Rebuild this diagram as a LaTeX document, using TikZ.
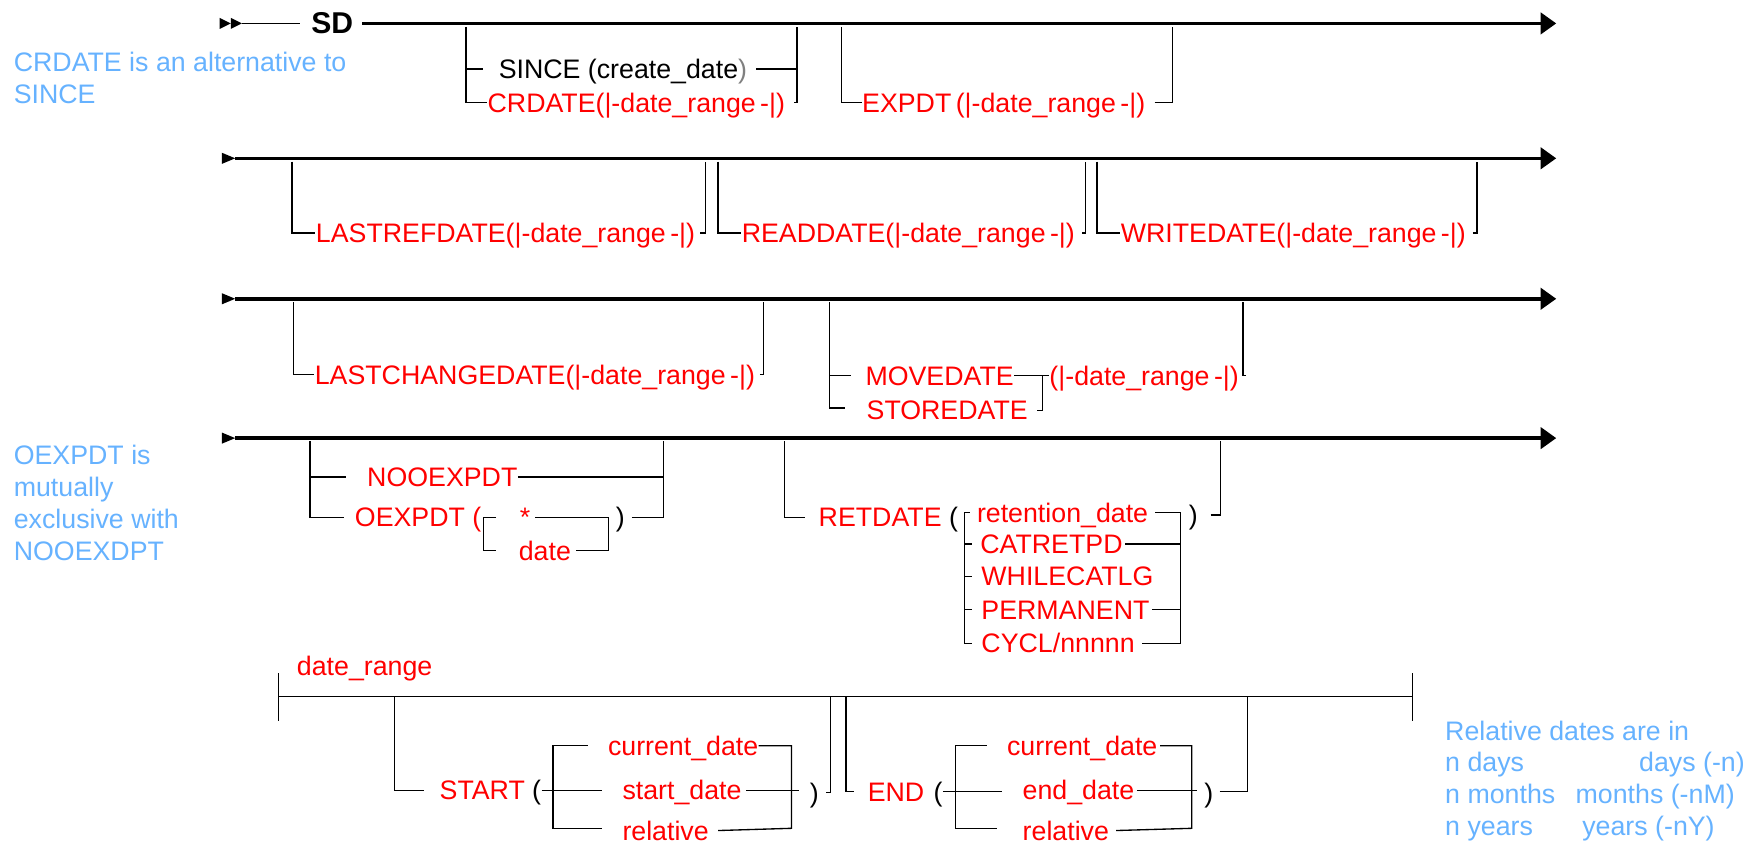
\documentclass[tikz,border=0pt]{standalone}
\usepackage{fontspec}
\setmainfont{Liberation Sans}
\usetikzlibrary{arrows.meta}
\definecolor{notebl}{RGB}{102,178,255}
\definecolor{kwred}{RGB}{255,0,0}
\tikzset{
  rail/.style={line width=1.6pt},
  fork/.style={line width=0.6pt},
  txt/.style={inner sep=0pt, text height=8.6pt, text depth=0pt, anchor=west},
  kw/.style={txt, text=kwred},
  note/.style={text=notebl, align=left, anchor=north west, inner sep=0pt},
  endtip/.style={-{Triangle[length=7pt,width=9.5pt]}},
}
\begin{document}
\begin{tikzpicture}[x=0.5pt,y=-0.5pt,font=\fontsize{12}{14.3}\selectfont]
\useasboundingbox (0,0) rectangle (1568,756);
% notes
\node[note] (n1) at (12,46) {CRDATE is an alternative to\\SINCE};
\node[note] (n2) at (12,399) {OEXPDT is\\mutually\\exclusive with\\NOOEXDPT};
\node[note] (n3) at (1296,646) {Relative dates are in\\\makebox[87pt][l]{n days}days (-n)\\\makebox[58.5pt][l]{n months}months (-nM)\\\makebox[61.5pt][l]{n years}years (-nY)};

% row 1
\fill (197,16) -- (207,21) -- (197,26) -- cycle;
\fill (207,16) -- (217,21) -- (207,26) -- cycle;
\node[inner sep=0pt, font=\fontsize{13.5}{15}\selectfont\bfseries] (sd) at (298,21) {SD};
\draw[fork] (217,21) -- ([xshift=-5pt]sd.west);
\draw[rail,endtip] ([xshift=4pt]sd.east) -- (1396,21);
\node[txt] (since) at (447,62) {SINCE (create\_date\textcolor{gray}{)}};
\node[kw] (crdate) at (437,92) {CRDATE(|-date\_range\,-|)};
\draw[fork] (418,24) |- (crdate.west);
\draw[fork] (418,62) -- (433,62);
\draw[fork] ([xshift=4pt]since.east) -| (715,24);
\draw[fork] ([xshift=4pt]crdate.east) -| (715,60);
\node[kw] (expdt) at (773,92) {EXPDT\,(|-date\_range\,-|)};
\draw[fork] (755,24) |- (expdt.west);
\draw[fork] ([xshift=4pt]expdt.east) -| (1052,24);

% row 2
\fill (199,137) -- (211,142) -- (199,147) -- cycle;
\draw[rail,endtip] (211,142) -- (1396,142);
\node[kw] (lastref) at (283,209) {LASTREFDATE(|-date\_range\,-|)};
\draw[fork] (262,145) |- (lastref.west);
\draw[fork] ([xshift=2pt]lastref.east) -| (633,145);
\node[kw] (readd) at (665,209) {READDATE(|-date\_range\,-|)};
\draw[fork] (644,145) |- (readd.west);
\draw[fork] ([xshift=3pt]readd.east) -| (974,145);
\node[kw] (writed) at (1005,209) {WRITEDATE(|-date\_range\,-|)};
\draw[fork] (984,145) |- (writed.west);
\draw[fork] ([xshift=3pt]writed.east) -| (1325,145);

% row 3
\fill (199,263) -- (211,268) -- (199,273) -- cycle;
\draw[rail,endtip] (211,268) -- (1396,268);
\node[kw] (lastchg) at (282,336) {LASTCHANGEDATE(|-date\_range\,-|)};
\draw[fork] (263,271) |- (lastchg.west);
\draw[fork] ([xshift=2pt]lastchg.east) -| (685,271);
\node[kw] (moved) at (776,337) {MOVEDATE};
\node[kw] (stored) at (777,368) {STOREDATE};
\node[kw] (mvrange) at (941,337) {(|-date\_range\,-|)};
\draw[fork] (744,271) |- (758,366);
\draw[fork] (744,337) -- (763,337);
\draw[fork] (moved.east) -- (mvrange.west);
\draw[fork] ([xshift=4pt]stored.east) -| (935,337);
\draw[fork] ([xshift=3pt]mvrange.east) -| (1115,271);

% row 4
\fill (199,388) -- (211,393) -- (199,398) -- cycle;
\draw[rail,endtip] (211,393) -- (1396,393);
\node[kw] (nooexp) at (329,428) {NOOEXPDT};
\node[kw] (oexp) at (318,464) {OEXPDT (};
\node[kw] (star) at (466,464) {*};
\node[kw] (odate) at (465,494) {date};
\node[txt] (oclose) at (552,464) {)};
\draw[fork] (278,396) |- (309,464);
\draw[fork] (278,428) -- (310,428);
\draw[fork] (nooexp.east) -| (595,396);
\draw[fork] (445,464) -| (434,494) -- (445,494);
\draw[fork] ([xshift=2pt]star.east) -| (546,494) -- ([xshift=2pt]odate.east);
\draw[fork] ([xshift=3pt]oclose.east) -| (595,396);
\node[kw] (retd) at (734,464) {RETDATE};
\node[txt] (ropen) at (851,464) {(};
\draw[fork] (704,396) |- ([xshift=-6pt]retd.west);
\node[kw] (retn) at (876,460) {retention\_date};
\node[kw] (catr) at (879,488) {CATRETPD};
\node[kw] (whilec) at (880,517) {WHILECATLG};
\node[kw] (perm) at (880,547) {PERMANENT};
\node[kw] (cycl) at (880,577) {CYCL/nnnnn};
\draw[fork] (870,460) -| (865,577) -- (872,577);
\foreach \y in {488,517,547}
  \draw[fork] (865,\y) -- (872,\y);
\draw[fork] ([xshift=3pt]retn.east) -| (1059,577) -- ([xshift=3pt]cycl.east);
\draw[fork] ([xshift=1pt]catr.east) -- (1059,488);
\draw[fork] ([xshift=1pt]perm.east) -- (1059,547);
\node[txt] (rclose) at (1066,462) {)};
\draw[fork] (1086,462) -| (1095,396);

% date_range
\node[kw] (drlabel) at (266,597) {date\_range};
\draw[fork] (250,604) -- (250,647);
\draw[fork] (250,625) -- (1267,625);
\draw[fork] (1267,604) -- (1267,647);
\node[kw] (start) at (394,709) {START};
\node[txt] (sopen) at (477,709) {(};
\draw[fork] (354,625) |- (380,709);
\draw[fork] (sopen.east) -- (540,709);
\node[kw] (scur) at (545,669) {current\_date};
\node[kw] (sdate) at (558,709) {start\_date};
\node[kw] (srel) at (558,745) {relative};
\draw[fork] (527,669) -| (496,743) -- (540,743);
\draw[fork] (scur.east) -| (710,743) -- ([xshift=4pt]srel.east);
\draw[fork] ([xshift=2pt]sdate.east) -- (717,709);
\node[txt] (sclose) at (726,711) {)};
\draw[fork] (741,711) -| (745,625);
\draw[fork] (759,625) |- (766,710);
\node[kw] (endk) at (778,710) {END};
\node[txt] (eopen) at (837,710) {(};
\draw[fork] (eopen.east) -- (899,710);
\node[kw] (ecur) at (903,669) {current\_date};
\node[kw] (edate) at (917,709) {end\_date};
\node[kw] (erel) at (917,745) {relative};
\draw[fork] (885,669) -| (857,743) -- (894,743);
\draw[fork] ([xshift=1pt]ecur.east) -| (1069,743) -- ([xshift=3pt]erel.east);
\draw[fork] ([xshift=1pt]edate.east) -- (1074,709);
\node[txt] (eclose) at (1080,711) {)};
\draw[fork] (1094,710) -| (1119,625);
\end{tikzpicture}
\end{document}
